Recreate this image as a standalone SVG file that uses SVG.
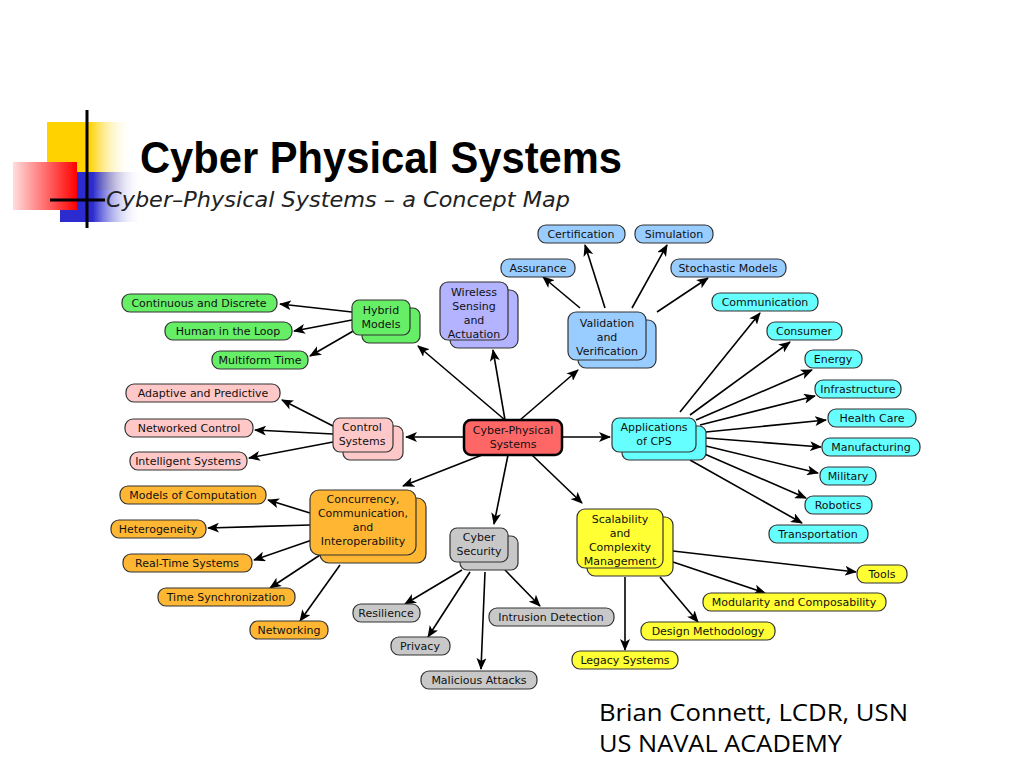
<svg xmlns="http://www.w3.org/2000/svg" width="1024" height="768" viewBox="0 0 1024 768">
<defs>
<marker id="ah" markerWidth="12" markerHeight="10" refX="11" refY="5" orient="auto" markerUnits="userSpaceOnUse"><path d="M0,0 L12,5 L0,10 L3,5 z" fill="#000"/></marker>
<linearGradient id="gy" x1="0" x2="1"><stop offset="0.5" stop-color="#ffd200"/><stop offset="1" stop-color="#fff" stop-opacity="0"/></linearGradient>
<linearGradient id="gr" x1="1" x2="0"><stop offset="0" stop-color="#ff0000"/><stop offset="1" stop-color="#ffdddd"/></linearGradient>
<linearGradient id="gb" x1="0" x2="1"><stop offset="0.4" stop-color="#2b2bd0"/><stop offset="1" stop-color="#fff" stop-opacity="0"/></linearGradient>
</defs>
<style>
text{font-family:"DejaVu Sans","Liberation Sans",sans-serif;font-size:11px;fill:#111}
.n text{text-anchor:middle}
.n rect{stroke:#333;stroke-width:1.2}
.g rect{fill:#66ee66}.p rect{fill:#ffc8c8}.o rect{fill:#ffb733}.y rect{fill:#ffff33}.c rect{fill:#66ffff}.b rect{fill:#99ccff}.gr rect{fill:#c8c8c8}.pu rect{fill:#b3b3ff}
#connectors line{stroke:#000;stroke-width:1.6;marker-end:url(#ah)}
</style>
<rect width="1024" height="768" fill="#fff"/>
<g id="logo">
<rect x="47" y="122" width="85" height="68" fill="url(#gy)"/>
<rect x="60" y="172" width="82" height="50" fill="url(#gb)"/>
<rect x="13" y="162" width="64" height="48" fill="url(#gr)"/>
<line x1="87" y1="110" x2="87" y2="228" stroke="#000" stroke-width="3"/>
<line x1="50" y1="200" x2="105" y2="200" stroke="#000" stroke-width="3"/>
</g>
<text x="140" y="173" textLength="482" lengthAdjust="spacingAndGlyphs" style="font-family:'Liberation Sans',sans-serif;font-size:44px;font-weight:bold;fill:#000">Cyber Physical Systems</text>
<text x="106" y="207" textLength="464" lengthAdjust="spacingAndGlyphs" style="font-family:'DejaVu Sans',sans-serif;font-style:italic;font-size:22px;fill:#222">Cyber–Physical Systems – a Concept Map</text>
<g id="connectors">
<line x1="352" y1="312" x2="280" y2="304"/><line x1="352" y1="320" x2="294" y2="331"/><line x1="355" y1="330" x2="310" y2="356"/>
<line x1="333" y1="426" x2="282" y2="400"/><line x1="333" y1="434" x2="255" y2="430"/><line x1="333" y1="442" x2="249" y2="458"/>
<line x1="310" y1="513" x2="268" y2="500"/><line x1="310" y1="525" x2="208" y2="528"/><line x1="312" y1="540" x2="254" y2="560"/><line x1="320" y1="555" x2="270" y2="588"/><line x1="340" y1="565" x2="300" y2="621"/>
<line x1="462" y1="570" x2="405" y2="604"/><line x1="470" y1="572" x2="428" y2="637"/><line x1="485" y1="572" x2="481" y2="669"/><line x1="505" y1="570" x2="540" y2="606"/>
<line x1="673" y1="551" x2="856" y2="572"/><line x1="673" y1="562" x2="765" y2="593"/><line x1="660" y1="577" x2="698" y2="622"/><line x1="625" y1="577" x2="625" y2="650"/>
<line x1="680" y1="412" x2="760" y2="313"/><line x1="690" y1="415" x2="790" y2="342"/><line x1="696" y1="420" x2="812" y2="370"/><line x1="700" y1="425" x2="815" y2="396"/><line x1="706" y1="432" x2="826" y2="420"/><line x1="706" y1="438" x2="821" y2="447"/><line x1="706" y1="446" x2="818" y2="473"/><line x1="700" y1="452" x2="806" y2="498"/><line x1="690" y1="460" x2="802" y2="523"/>
<line x1="580" y1="308" x2="543" y2="277"/><line x1="605" y1="308" x2="585" y2="245"/><line x1="632" y1="308" x2="667" y2="245"/><line x1="657" y1="312" x2="708" y2="278"/>
<line x1="505" y1="420" x2="418" y2="346"/><line x1="505" y1="420" x2="493" y2="350"/><line x1="520" y1="420" x2="578" y2="370"/>
<line x1="464" y1="437" x2="406" y2="437"/><line x1="562" y1="437" x2="610" y2="437"/>
<line x1="482" y1="455" x2="403" y2="486"/><line x1="508" y1="455" x2="494" y2="524"/><line x1="532" y1="455" x2="582" y2="503"/>
</g>
<g class="n g">
<g id="n-cont"><rect x="122" y="294" width="155" height="18" rx="8"/><text x="199" y="307">Continuous and Discrete</text></g>
<g id="n-human"><rect x="165" y="322" width="127" height="18" rx="8"/><text x="228" y="335">Human in the Loop</text></g>
<g id="n-multi"><rect x="212" y="351" width="96" height="18" rx="8"/><text x="260" y="364">Multiform Time</text></g>
<g id="n-hybrid"><rect x="362" y="308" width="58" height="35" rx="7"/><rect x="352" y="300" width="58" height="35" rx="7"/><text x="381" y="314">Hybrid</text><text x="381" y="328">Models</text></g>
</g>
<g class="n p">
<g id="n-adapt"><rect x="126" y="384" width="154" height="18" rx="8"/><text x="203" y="397">Adaptive and Predictive</text></g>
<g id="n-net"><rect x="125" y="419" width="128" height="18" rx="8"/><text x="189" y="432">Networked Control</text></g>
<g id="n-intel"><rect x="130" y="452" width="117" height="18" rx="8"/><text x="188" y="465">Intelligent Systems</text></g>
<g id="n-control"><rect x="343" y="426" width="60" height="34" rx="7"/><rect x="333" y="418" width="60" height="34" rx="7"/><text x="362" y="431">Control</text><text x="362" y="445">Systems</text></g>
</g>
<g class="n" id="n-cps"><rect x="464" y="420" width="98" height="35" rx="7" fill="#ff6666" style="stroke:#000;stroke-width:2.5"/><text x="513" y="434">Cyber-Physical</text><text x="513" y="448">Systems</text></g>
<g class="n o">
<g id="n-moc"><rect x="120" y="486" width="146" height="18" rx="8"/><text x="193" y="499">Models of Computation</text></g>
<g id="n-het"><rect x="111" y="520" width="95" height="18" rx="8"/><text x="158" y="533">Heterogeneity</text></g>
<g id="n-rts"><rect x="123" y="554" width="129" height="18" rx="8"/><text x="187" y="567">Real-Time Systems</text></g>
<g id="n-ts"><rect x="158" y="588" width="137" height="18" rx="8"/><text x="226" y="601">Time Synchronization</text></g>
<g id="n-netw"><rect x="250" y="621" width="78" height="18" rx="8"/><text x="289" y="634">Networking</text></g>
<g id="n-conc"><rect x="320" y="498" width="106" height="65" rx="9"/><rect x="310" y="490" width="106" height="65" rx="9"/><text x="363" y="503">Concurrency,</text><text x="363" y="517">Communication,</text><text x="363" y="531">and</text><text x="363" y="545">Interoperability</text></g>
</g>
<g class="n gr">
<g id="n-cyber"><rect x="460" y="536" width="58" height="34" rx="7"/><rect x="450" y="528" width="58" height="34" rx="7"/><text x="479" y="541">Cyber</text><text x="479" y="555">Security</text></g>
<g id="n-res"><rect x="353" y="604" width="67" height="18" rx="8"/><text x="386" y="617">Resilience</text></g>
<g id="n-priv"><rect x="391" y="637" width="59" height="18" rx="8"/><text x="420" y="650">Privacy</text></g>
<g id="n-mal"><rect x="421" y="671" width="116" height="18" rx="8"/><text x="479" y="684">Malicious Attacks</text></g>
<g id="n-intr"><rect x="489" y="608" width="125" height="18" rx="8"/><text x="551" y="621">Intrusion Detection</text></g>
</g>
<g class="n y">
<g id="n-scal"><rect x="587" y="517" width="86" height="59" rx="8"/><rect x="577" y="509" width="86" height="59" rx="8"/><text x="620" y="523">Scalability</text><text x="620" y="537">and</text><text x="620" y="551">Complexity</text><text x="620" y="565">Management</text></g>
<g id="n-tools"><rect x="857" y="565" width="50" height="18" rx="8"/><text x="882" y="578">Tools</text></g>
<g id="n-mod"><rect x="703" y="593" width="183" height="18" rx="8"/><text x="794" y="606">Modularity and Composability</text></g>
<g id="n-des"><rect x="641" y="622" width="134" height="18" rx="8"/><text x="708" y="635">Design Methodology</text></g>
<g id="n-leg"><rect x="572" y="651" width="106" height="18" rx="8"/><text x="625" y="664">Legacy Systems</text></g>
</g>
<g class="n c">
<g id="n-app"><rect x="622" y="426" width="84" height="34" rx="7"/><rect x="612" y="418" width="84" height="34" rx="7"/><text x="654" y="431">Applications</text><text x="654" y="445">of CPS</text></g>
<g id="n-comm"><rect x="712" y="293" width="106" height="18" rx="8"/><text x="765" y="306">Communication</text></g>
<g id="n-cons"><rect x="767" y="322" width="75" height="18" rx="8"/><text x="804" y="335">Consumer</text></g>
<g id="n-ener"><rect x="805" y="350" width="57" height="18" rx="8"/><text x="833" y="363">Energy</text></g>
<g id="n-infr"><rect x="815" y="380" width="86" height="18" rx="8"/><text x="858" y="393">Infrastructure</text></g>
<g id="n-hc"><rect x="828" y="409" width="88" height="18" rx="8"/><text x="872" y="422">Health Care</text></g>
<g id="n-man"><rect x="822" y="438" width="98" height="18" rx="8"/><text x="871" y="451">Manufacturing</text></g>
<g id="n-mil"><rect x="820" y="467" width="56" height="18" rx="8"/><text x="848" y="480">Military</text></g>
<g id="n-rob"><rect x="805" y="496" width="67" height="18" rx="8"/><text x="838" y="509">Robotics</text></g>
<g id="n-tran"><rect x="769" y="525" width="99" height="18" rx="8"/><text x="818" y="538">Transportation</text></g>
</g>
<g class="n b">
<g id="n-cert"><rect x="538" y="225" width="87" height="18" rx="8"/><text x="581" y="238">Certification</text></g>
<g id="n-sim"><rect x="635" y="225" width="78" height="18" rx="8"/><text x="674" y="238">Simulation</text></g>
<g id="n-ass"><rect x="501" y="259" width="74" height="18" rx="8"/><text x="538" y="272">Assurance</text></g>
<g id="n-sto"><rect x="671" y="259" width="115" height="18" rx="8"/><text x="728" y="272">Stochastic Models</text></g>
<g id="n-val"><rect x="578" y="320" width="78" height="48" rx="8"/><rect x="568" y="312" width="78" height="48" rx="8"/><text x="607" y="327">Validation</text><text x="607" y="341">and</text><text x="607" y="355">Verification</text></g>
</g>
<g class="n pu">
<g id="n-wire"><rect x="450" y="290" width="68" height="58" rx="8"/><rect x="440" y="282" width="68" height="58" rx="8"/><text x="474" y="296">Wireless</text><text x="474" y="310">Sensing</text><text x="474" y="324">and</text><text x="474" y="338">Actuation</text></g>
</g>
<text x="599" y="721" textLength="309" lengthAdjust="spacingAndGlyphs" style="font-family:'Open Sans',sans-serif;font-size:24px;fill:#000">Brian Connett, LCDR, USN</text>
<text x="599" y="752" textLength="243" lengthAdjust="spacingAndGlyphs" style="font-family:'Open Sans',sans-serif;font-size:24px;fill:#000">US NAVAL ACADEMY</text>
</svg>
